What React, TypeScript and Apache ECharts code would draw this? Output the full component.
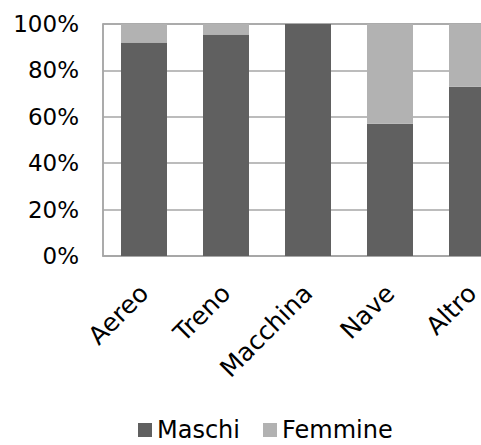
import React, { useEffect, useRef } from "react";
import * as echarts from "echarts";

const categories = ["Aereo", "Treno", "Macchina", "Nave", "Altro"];
const maschi = [92, 95.5, 100, 57, 73];
const femmine = [8, 4.5, 0, 43, 27];
const yTicks = [0, 20, 40, 60, 80, 100];

export default function App() {
  const ref = useRef<HTMLDivElement>(null);
  useEffect(() => {
    const chart = echarts.init(ref.current!, null, { renderer: "svg" });
    const font = "'DejaVu Sans', Arial, sans-serif";
    chart.setOption({
      animation: false,
      backgroundColor: "#ffffff",
      textStyle: { fontFamily: font },
      grid: {
        left: 103,
        top: 24,
        width: 410,
        height: 232,
        show: true,
        borderColor: "#a6a6a6",
        borderWidth: 1.5,
        backgroundColor: "transparent",
        containLabel: false,
        outerBoundsMode: "none",
      },
      legend: {
        left: 133,
        top: 413,
        icon: "rect",
        itemWidth: 14,
        itemHeight: 14,
        itemGap: 23,
        textStyle: { fontSize: 24, color: "#000", fontFamily: font },
        data: ["Maschi", "Femmine"],
      },
      xAxis: {
        type: "category",
        data: categories,
        axisLine: { show: true, lineStyle: { color: "#a6a6a6", width: 1.5 } },
        axisTick: { show: false },
        axisLabel: {
          rotate: 45,
          interval: 0,
          margin: 33,
          padding: [30, 0, 0, 0],
          fontSize: 25,
          color: "#000",
          fontFamily: font,
        },
      },
      yAxis: {
        type: "value",
        min: yTicks[0],
        max: yTicks[yTicks.length - 1],
        interval: 20,
        axisLine: { show: true, lineStyle: { color: "#a6a6a6", width: 1.5 } },
        axisTick: { show: false },
        splitLine: { show: true, lineStyle: { color: "#a6a6a6", width: 1.5 } },
        axisLabel: {
          formatter: "{value}%",
          margin: 24,
          fontSize: 23,
          color: "#000",
          fontFamily: font,
        },
      },
      series: [
        {
          name: "Maschi",
          type: "bar",
          stack: "tot",
          barWidth: 46,
          data: maschi,
          itemStyle: { color: "#606060" },
        },
        {
          name: "Femmine",
          type: "bar",
          stack: "tot",
          barWidth: 46,
          data: femmine,
          itemStyle: { color: "#b2b2b2" },
        },
      ],
    });
    return () => chart.dispose();
  }, []);
  return (
    <div
      ref={ref}
      style={{ position: "fixed", left: 0, top: 0, width: 481, height: 445 }}
    />
  );
}
